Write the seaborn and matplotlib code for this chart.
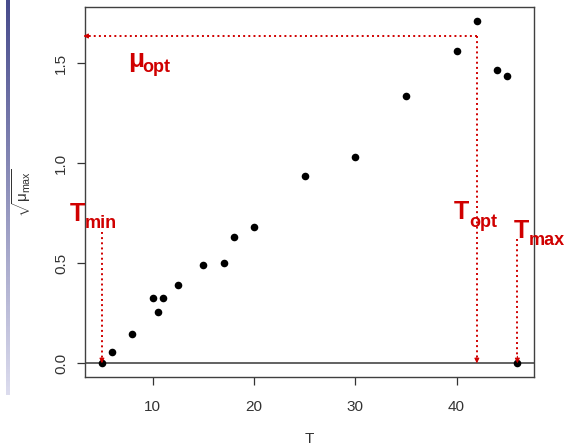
import numpy as np
import pandas as pd
import matplotlib
matplotlib.use("Agg")
import matplotlib.pyplot as plt
from matplotlib.colors import LinearSegmentedColormap
import seaborn as sns

# temperature and square root of max growth rate
temp = [5, 6, 8, 10, 10.5, 11, 12.5, 15, 17, 18, 20, 25, 30, 35, 40, 42, 44, 45, 46]
sqrt_mu = [0, 0.055, 0.147, 0.327, 0.257, 0.327, 0.393, 0.493, 0.502, 0.633,
           0.683, 0.937, 1.032, 1.335, 1.56, 1.71, 1.467, 1.435, 0]

# cardinal values marked by the red arrows
t_min, t_opt, t_max = 5, 42, 46
mu_opt = 1.635
arrow_tops = [0.657, 1.635, 0.62]

# red labels: (main letter, subscript, x, y, sub x, sub y, main size)
labels = [
    ("T", "min", 1.84, 0.71, 3.35, 0.675, 18),
    ("T", "opt", 39.73, 0.72, 41.25, 0.68, 18),
    ("T", "max", 45.65, 0.625, 47.15, 0.59, 18),
    ("\u03bc", "opt", 7.56, 1.48, 9.0, 1.457, 19),
]

df = pd.DataFrame({"T": temp, "sqrt_mu": sqrt_mu})

sns.set_style("white")
plt.rcParams["font.family"] = ["Liberation Sans", "DejaVu Sans"]
plt.rcParams["mathtext.fontset"] = "custom"
plt.rcParams["mathtext.rm"] = "Liberation Sans"
plt.rcParams["mathtext.it"] = "Liberation Sans"

red = "#d00000"
grey = "#333333"

fig = plt.figure(figsize=(5.76, 4.46), dpi=100)
ax = fig.add_axes([85.3 / 576, 1 - 377 / 446, (534 - 85.3) / 576, (377 - 7.3) / 446])

sns.scatterplot(data=df, x="T", y="sqrt_mu", color="black", s=30, linewidth=0, ax=ax, zorder=3)

# R-style 4% padding
xr = max(temp) - min(temp)
yr = max(sqrt_mu) - min(sqrt_mu)
ax.set_xlim(min(temp) - 0.04 * xr, max(temp) + 0.04 * xr)
ax.set_ylim(min(sqrt_mu) - 0.04 * yr, max(sqrt_mu) + 0.04 * yr)

ax.axhline(0, color="#555555", lw=1.3, zorder=2)

# dotted arrows
for x0, top in zip([t_min, t_opt, t_max], arrow_tops):
    ax.plot([x0, x0], [top, 0.03], ls=":", color=red, lw=1.4, zorder=2)
    ax.annotate("", xy=(x0, 0.0), xytext=(x0, 0.035),
                arrowprops=dict(arrowstyle="-|>", color=red, lw=0.8,
                                mutation_scale=7, shrinkA=0, shrinkB=0))
x_left = ax.get_xlim()[0]
ax.plot([t_opt, x_left + 0.4], [mu_opt, mu_opt], ls=":", color=red, lw=1.4, zorder=2)
ax.annotate("", xy=(x_left - 0.2, mu_opt), xytext=(x_left + 0.5, mu_opt),
            arrowprops=dict(arrowstyle="-|>", color=red, lw=0.8,
                            mutation_scale=7, shrinkA=0, shrinkB=0),
            annotation_clip=False)

for main, sub, x, y, sx, sy, size in labels:
    ax.text(x, y, main, color=red, fontsize=size, fontweight="bold",
            ha="left", va="baseline", clip_on=False)
    ax.text(sx, sy, sub, color=red, fontsize=13, fontweight="bold",
            ha="left", va="baseline", clip_on=False)

ax.set_xticks([10, 20, 30, 40])
ax.set_yticks([0.0, 0.5, 1.0, 1.5])
ax.set_yticklabels(["0.0", "0.5", "1.0", "1.5"])
ax.tick_params(axis="both", direction="out", length=5.8, width=0.9, color=grey,
               labelsize=11, labelcolor=grey, left=True, bottom=True)
ax.tick_params(axis="x", pad=10.5)
ax.tick_params(axis="y", pad=6.5, labelrotation=90)
plt.setp(ax.get_yticklabels(), va="center")

ax.set_xlabel("T", fontsize=11, color=grey, va="center")
ax.set_ylabel(r"$\sqrt{\mu_{\mathrm{max}}}$", fontsize=11, color=grey, va="center")
ax.xaxis.set_label_coords(0.5, -(439 - 377) / 369.7)
ax.yaxis.set_label_coords(-(85.3 - 22) / 448.7, 0.498)

for sp in ax.spines.values():
    sp.set_color("#404040")
    sp.set_linewidth(1.0)
    sp.set_visible(True)

# slide decoration on the left edge
bar = fig.add_axes([6 / 576, 1 - 395 / 446, 4 / 576, 395 / 446])
cmap = LinearSegmentedColormap.from_list("bar", ["#474b8c", "#dcdcee"])
bar.imshow(np.linspace(0, 1, 200).reshape(-1, 1), aspect="auto", cmap=cmap)
bar.axis("off")

fig.savefig("out.png", dpi=100, facecolor="white")
